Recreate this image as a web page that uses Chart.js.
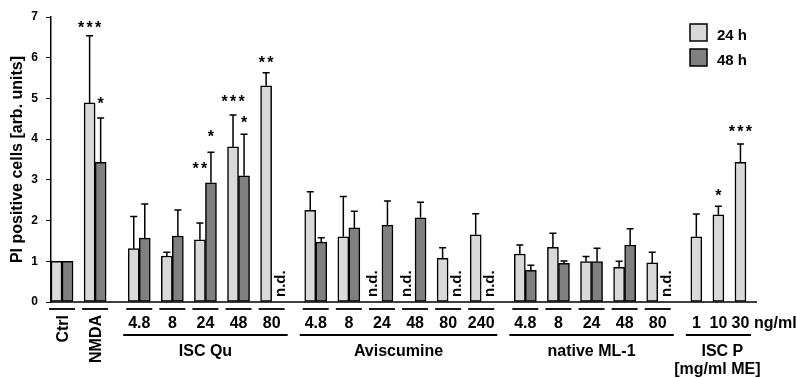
<!DOCTYPE html>
<html><head><meta charset="utf-8">
<script src="https://cdn.jsdelivr.net/npm/chart.js@4.4.1/dist/chart.umd.min.js"></script>
<style>html,body{margin:0;padding:0;background:#fff}#wrap{width:797px;height:378px}</style>
</head><body>
<div id="wrap"><canvas id="c" width="797" height="378"></canvas></div>
<script>
// ---------- data ----------
const groupNames = ['Ctrl', 'NMDA', 'ISC Qu', 'Aviscumine', 'native ML-1', 'ISC P'];
const groupSub = ['', '', '', '', '', '[mg/ml ME]'];
const concLabels = [['Ctrl'], ['NMDA'], ['4.8','8','24','48','80'], ['4.8','8','24','48','80','240'], ['4.8','8','24','48','80'], ['1','10','30']];
const has48 = [true, true, true, true, true, false];
const unitLabel = 'ng/ml';
const seriesNames = ['24 h', '48 h'];

const mean24 = [[1.0], [4.89], [1.31,1.13,1.53,3.81,5.31], [2.25,1.60,null,null,1.07,1.65], [1.18,1.34,0.99,0.85,0.96], [1.60,2.14,3.43]];
const err24  = [[0], [1.65], [0.79,0.09,0.41,0.78,0.32], [0.46,0.99,null,null,0.26,0.52], [0.22,0.35,0.13,0.15,0.26], [0.56,0.21,0.45]];
const mean48 = [[1.0], [3.43], [1.57,1.62,2.93,3.10,null], [1.47,1.82,1.89,2.07,null,null], [0.78,0.95,0.99,1.40,null], [null,null,null]];
const err48  = [[0], [1.09], [0.84,0.64,0.75,1.02,null], [0.11,0.41,0.59,0.38,null,null], [0.12,0.06,0.33,0.40,null], [null,null,null]];

const sig24  = [[''], ['***'], ['','','**','***','**'], ['','','','','',''], ['','','','',''], ['','*','***']];
const sig24Y = [[0], [6.82], [0,0,3.37,5.01,5.96], [0,0,0,0,0,0], [0,0,0,0,0], [0,2.69,4.28]];
const sig48  = [[''], ['*'], ['','','*','*',''], ['','','','','',''], ['','','','',''], ['','','']];
const sig48Y = [[0], [4.96], [0,0,4.15,4.49,0], [0,0,0,0,0,0], [0,0,0,0,0], [0,0,0]];

const yTicks = [0,1,2,3,4,5,6,7];
const yTitle = 'PI positive cells [arb. units]';

// ---------- build slot table ----------
const gapBefore = [0, 1, 2, 2, 2, 2];
const info = [];
let s = 0;
groupNames.forEach((g, gi) => {
  s += gapBefore[gi];
  concLabels[gi].forEach((c, ci) => {
    if (ci > 0) s += 1;
    info.push({gi, ci, s24: s, s48: has48[gi] ? s + 1 : null});
    s += has48[gi] ? 2 : 1;
  });
});
const nSlots = s + 1;
const slotLabels = Array.from({length: nSlots}, (_, i) => String(i));
const data24 = new Array(nSlots).fill(null);
const data48 = new Array(nSlots).fill(null);
info.forEach(o => {
  data24[o.s24] = mean24[o.gi][o.ci];
  if (o.s48 !== null) data48[o.s48] = mean48[o.gi][o.ci];
});

const FONT = "'Liberation Sans', Arial, Helvetica, sans-serif";
const LIGHT = '#d9d9d9', DARK = '#808080';

function stars(ctx, str, x, y) {
  const n = str.length, sp = 8.5;
  ctx.font = 'bold 16px ' + FONT;
  ctx.textAlign = 'center';
  ctx.textBaseline = 'alphabetic';
  for (let i = 0; i < n; i++) ctx.fillText('*', x + (i - (n - 1) / 2) * sp, y + 9);
}

const overlay = {
  id: 'overlay',
  afterDatasetsDraw(chart) {
    const ctx = chart.ctx, xs = chart.scales.x, ys = chart.scales.y, ca = chart.chartArea;
    const w = xs.getPixelForValue(1) - xs.getPixelForValue(0);
    const y0 = ys.getPixelForValue(0);
    ctx.save();
    ctx.fillStyle = '#000'; ctx.strokeStyle = '#000';
    // baseline
    ctx.lineWidth = 1.5;
    ctx.beginPath(); ctx.moveTo(ca.left, y0); ctx.lineTo(ca.right, y0); ctx.stroke();

    // error bars, stars, n.d.
    info.forEach(o => {
      [[o.s24, mean24, err24, sig24, sig24Y, 0], [o.s48, mean48, err48, sig48, sig48Y, 1]].forEach(([slot, M, E, S, SY, k]) => {
        if (slot === null) return;
        const x = xs.getPixelForValue(slot);
        const m = M[o.gi][o.ci], e = E[o.gi][o.ci];
        if (m === null) {
          ctx.save();
          ctx.font = 'bold 15px ' + FONT;
          ctx.translate(x + (k === 1 ? 7.5 : 1), y0 - 5);
          ctx.rotate(-Math.PI / 2);
          ctx.textAlign = 'left'; ctx.textBaseline = 'alphabetic';
          ctx.fillText('n.d.', 0, 0);
          ctx.restore();
          return;
        }
        if (e > 0) {
          const yb = ys.getPixelForValue(m), yt = ys.getPixelForValue(m + e);
          ctx.lineWidth = 1.5;
          ctx.beginPath();
          ctx.moveTo(x, yb); ctx.lineTo(x, yt);
          ctx.moveTo(x - 3.5, yt); ctx.lineTo(x + 3.5, yt);
          ctx.stroke();
        }
        const st = S[o.gi][o.ci];
        if (st) stars(ctx, st, x, ys.getPixelForValue(SY[o.gi][o.ci]));
      });
    });

    // x labels
    const yShort = y0 + 7, yNum = y0 + 26, yLong = y0 + 33, yName = y0 + 54, ySub = y0 + 72;
    groupNames.forEach((g, gi) => {
      const items = info.filter(o => o.gi === gi);
      const centers = items.map(o => o.s48 !== null ? (xs.getPixelForValue(o.s24) + xs.getPixelForValue(o.s48)) / 2 : xs.getPixelForValue(o.s24));
      if (items.length === 1) {
        // rotated single label (Ctrl / NMDA)
        const c = centers[0];
        ctx.lineWidth = 1.8;
        ctx.beginPath(); ctx.moveTo(c - 13, yShort); ctx.lineTo(c + 13, yShort); ctx.stroke();
        ctx.save();
        ctx.font = 'bold 16px ' + FONT;
        ctx.translate(c + 6, y0 + 13);
        ctx.rotate(-Math.PI / 2);
        ctx.textAlign = 'right'; ctx.textBaseline = 'alphabetic';
        ctx.fillText(g, 0, 0);
        ctx.restore();
        return;
      }
      ctx.font = 'bold 16px ' + FONT;
      ctx.textAlign = 'center'; ctx.textBaseline = 'alphabetic';
      items.forEach((o, i) => {
        const c = centers[i];
        if (has48[gi]) {
          ctx.lineWidth = 1.8;
          ctx.beginPath(); ctx.moveTo(c - 13, yShort); ctx.lineTo(c + 13, yShort); ctx.stroke();
        }
        ctx.fillText(concLabels[gi][o.ci], c, yNum);
      });
      const first = items[0], last = items[items.length - 1];
      const lx = xs.getPixelForValue(first.s24) - w / 2 - 5;
      const rx = xs.getPixelForValue(last.s48 !== null ? last.s48 : last.s24) + w / 2 + 5;
      ctx.lineWidth = 1.8;
      ctx.beginPath(); ctx.moveTo(lx, yLong); ctx.lineTo(rx, yLong); ctx.stroke();
      ctx.fillText(g, (lx + rx) / 2 + (groupSub[gi] ? 4 : 0), yName);
      if (groupSub[gi]) ctx.fillText(groupSub[gi], (lx + rx) / 2 - 1, ySub);
      if (gi === groupNames.length - 1) {
        ctx.textAlign = 'left';
        ctx.fillText(unitLabel, xs.getPixelForValue(last.s24) + w / 2 + 8, yNum);
      }
    });

    // y title
    ctx.save();
    ctx.font = 'bold 16px ' + FONT;
    ctx.translate(21.5, (ca.top + ca.bottom) / 2);
    ctx.rotate(-Math.PI / 2);
    ctx.textAlign = 'center'; ctx.textBaseline = 'alphabetic';
    ctx.fillText(yTitle, 0, 0);
    ctx.restore();

    // legend
    const lgX = ca.right - 67, lgY = [24, 49];
    [LIGHT, DARK].forEach((col, i) => {
      ctx.fillStyle = col;
      ctx.fillRect(lgX, lgY[i], 17, 17);
      ctx.lineWidth = 1.5; ctx.strokeStyle = '#000';
      ctx.strokeRect(lgX, lgY[i], 17, 17);
      ctx.fillStyle = '#000';
      ctx.font = 'bold 15px ' + FONT;
      ctx.textAlign = 'left'; ctx.textBaseline = 'alphabetic';
      ctx.fillText(seriesNames[i], lgX + 27, lgY[i] + 15.5);
    });
    ctx.restore();
  }
};

new Chart(document.getElementById('c'), {
  type: 'bar',
  data: {
    labels: slotLabels,
    datasets: [
      {label: seriesNames[0], data: data24, backgroundColor: LIGHT, borderColor: '#000', borderWidth: 1.5, borderSkipped: false, grouped: false, barPercentage: 1, categoryPercentage: 1},
      {label: seriesNames[1], data: data48, backgroundColor: DARK, borderColor: '#000', borderWidth: 1.5, borderSkipped: false, grouped: false, barPercentage: 1, categoryPercentage: 1}
    ]
  },
  options: {
    responsive: false,
    animation: false,
    devicePixelRatio: 1,
    layout: {padding: {top: 17, right: 40, bottom: 76, left: 0}},
    plugins: {legend: {display: false}, tooltip: {enabled: false}},
    scales: {
      x: {display: false, offset: true},
      y: {
        min: 0, max: 7,
        afterBuildTicks: sc => { sc.ticks = yTicks.map(v => ({value: v})); },
        afterFit: sc => { sc.width = 51; },
        ticks: {color: '#000', padding: 8, font: {family: FONT, size: 12, weight: 'bold'}},
        grid: {drawOnChartArea: false, color: '#000', tickLength: 5, lineWidth: 1},
        border: {color: '#000', width: 1.5}
      }
    }
  },
  plugins: [overlay]
});
</script>
</body></html>
